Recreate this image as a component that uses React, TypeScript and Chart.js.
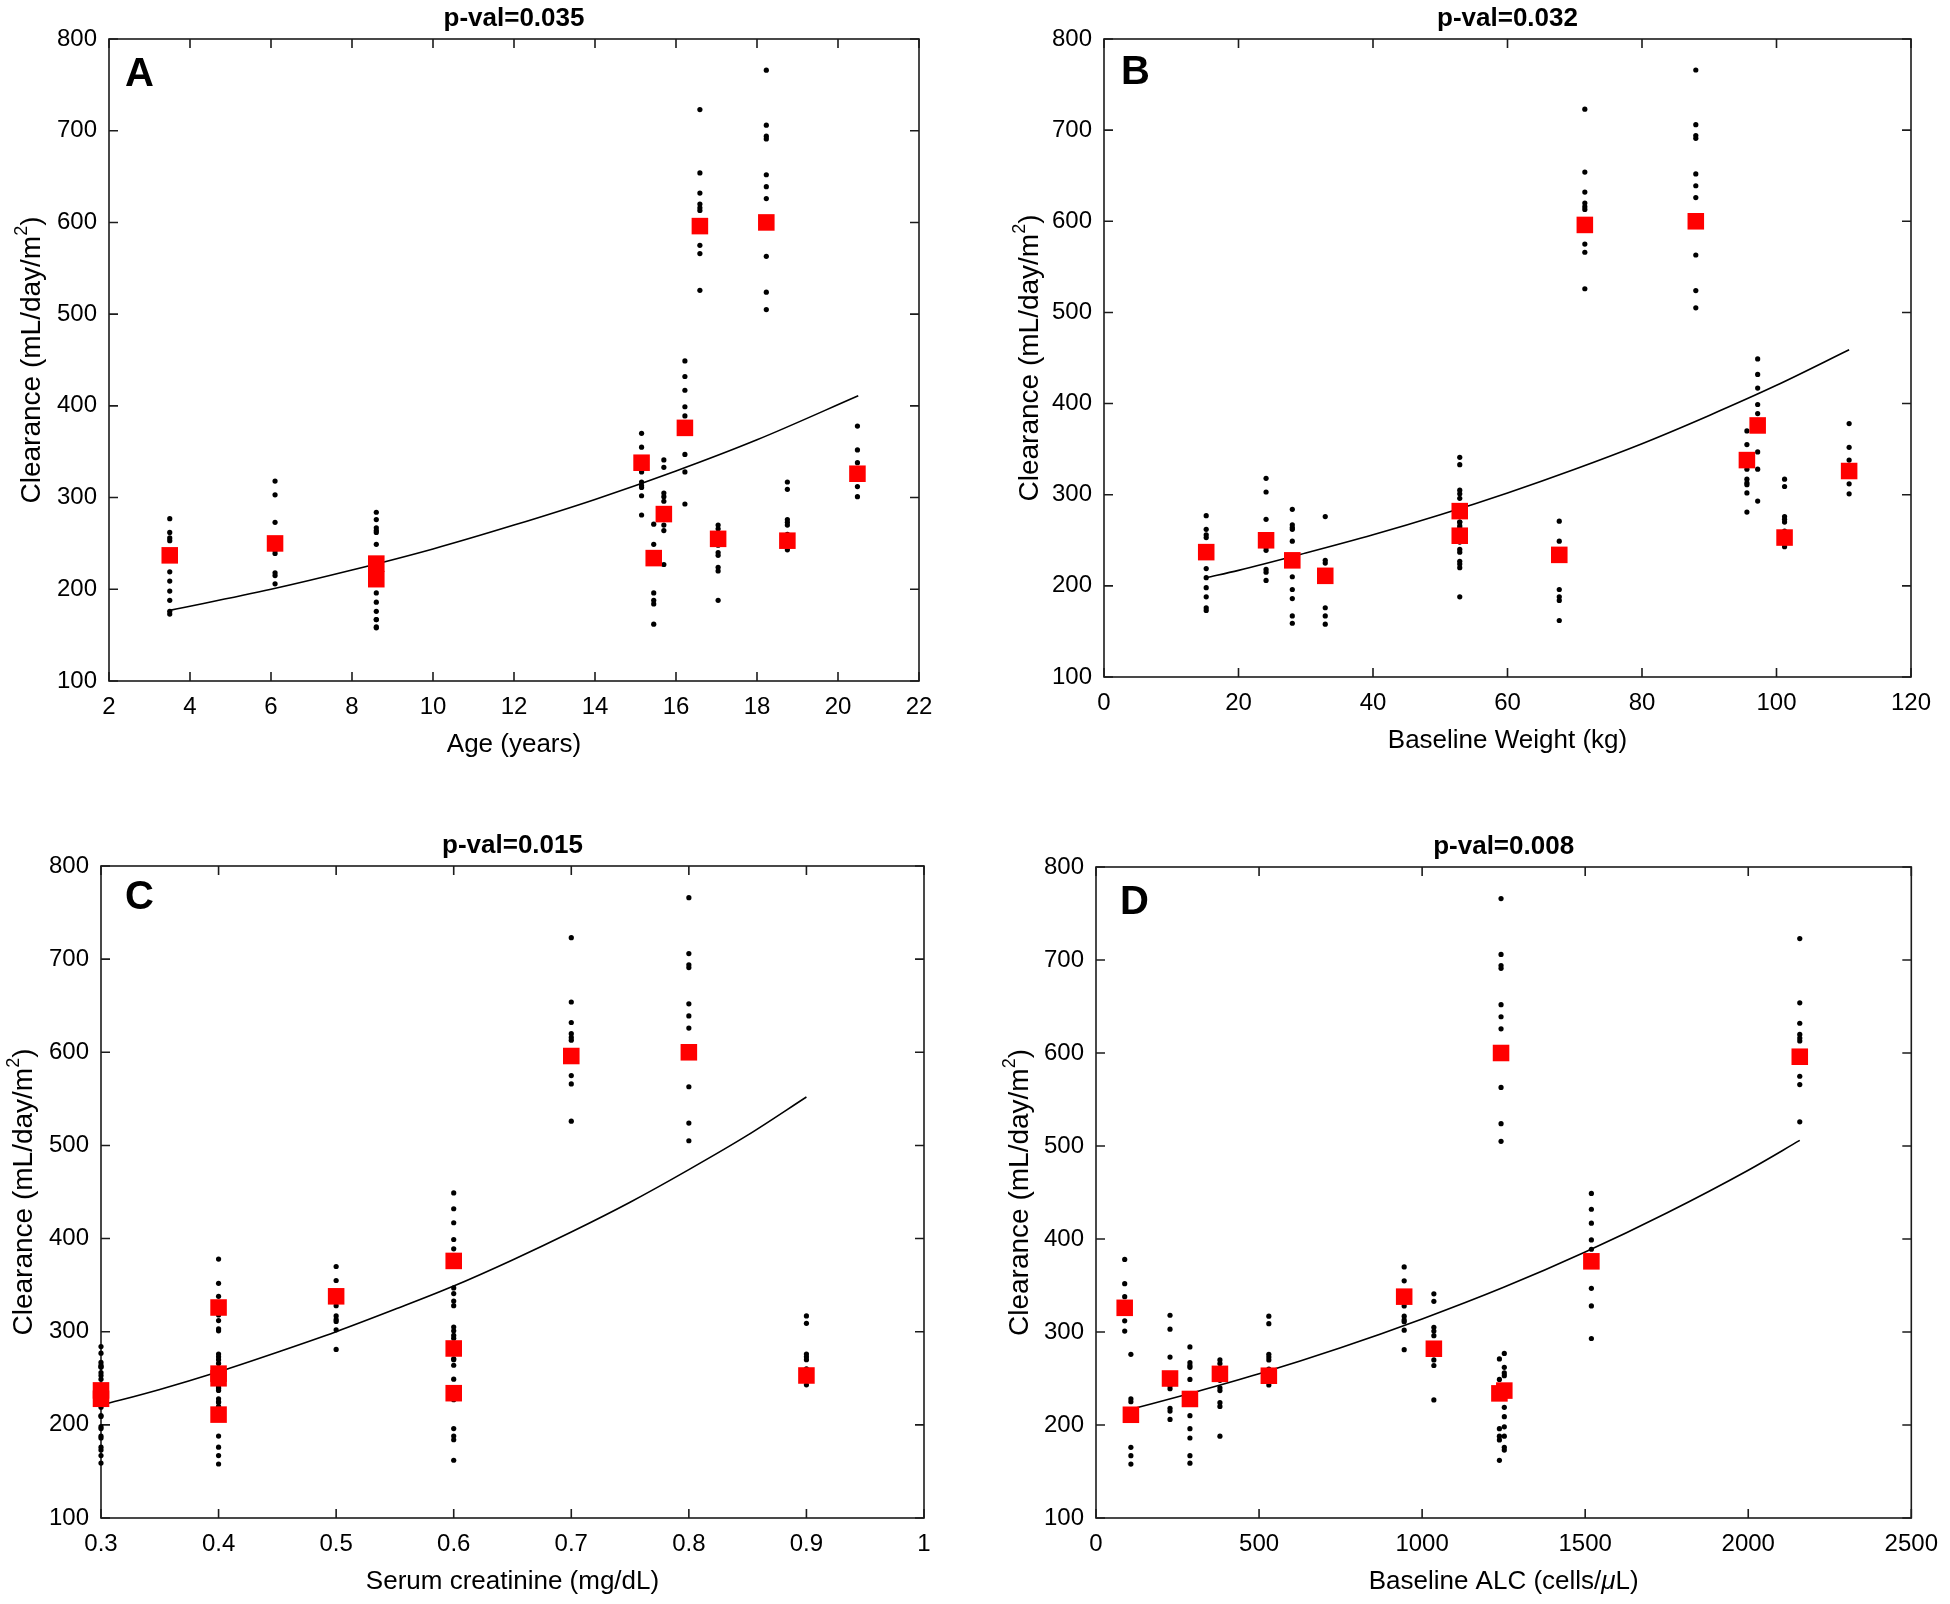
import React, { useEffect, useRef } from "react";
import { Chart, registerables } from "chart.js";

Chart.register(...registerables);

// ---------------- DATA ----------------
// Per-patient mean clearance (red squares), mL/day/m2
const patientMeans = [237, 250, 228, 211, 338, 234, 282, 376, 596, 255, 600, 253, 326];

// Covariate values per patient
const ageYears = [3.5, 6.1, 8.6, 8.6, 15.15, 15.45, 15.7, 16.22, 16.59, 17.04, 18.23, 18.75, 20.48];
const weightKg = [15.2, 24.1, 28, 32.9, 95.6, 67.7, 52.9, 97.2, 71.5, 52.9, 88, 101.2, 110.8];
const creatinine = [0.3, 0.4, 0.3, 0.4, 0.5, 0.6, 0.6, 0.6, 0.7, 0.4, 0.8, 0.9, 0.4];
const alcCells = [1252, 227, 288, 107, 945, 1237, 1036, 1519, 2158, 380, 1242, 530, 88];

// Individual clearance estimates per patient (black dots)
const p1Samples = [277, 262, 256, 253, 219, 209, 198, 188, 176, 173];
const p2Samples = [318, 303, 273, 242, 239, 218, 215, 206];
const p3Samples = [284, 267, 264, 262, 249, 210, 196, 186, 167, 159];
const p4Samples = [276, 228, 225, 176, 167, 158];
const p5Samples = [370, 355, 341, 328, 317, 313, 311, 302, 281];
const p6Samples = [271, 249, 196, 188, 184, 162];
const p7Samples = [341, 333, 305, 301, 296, 270, 264, 227];
const p8Samples = [449, 432, 417, 399, 389, 347, 328, 293];
const p9Samples = [723, 654, 632, 620, 616, 613, 575, 566, 526];
const p10Samples = [270, 266, 248, 240, 237, 224, 220, 188];
const p11Samples = [766, 706, 694, 691, 652, 639, 626, 563, 524, 505];
const p12Samples = [317, 309, 276, 273, 270, 260, 248, 243];
const p13Samples = [378, 352, 338, 312, 301];
const allSamples = [
  p1Samples, p2Samples, p3Samples, p4Samples, p5Samples, p6Samples, p7Samples,
  p8Samples, p9Samples, p10Samples, p11Samples, p12Samples, p13Samples,
];

// Fitted curves
const fitAgeX = [3.5, 6, 8, 10, 12, 14, 16, 18, 20.5];
const fitAgeY = [177, 200, 221, 244, 270, 298, 329, 363, 411];
const fitWeightX = [15.2, 20, 30, 40, 50, 60, 70, 80, 90, 100, 110.8];
const fitWeightY = [209, 217, 236, 256, 278, 302, 328, 356, 387, 420, 459];
const fitCreatX = [0.3, 0.35, 0.4, 0.45, 0.5, 0.55, 0.6, 0.65, 0.7, 0.75, 0.8, 0.85, 0.9];
const fitCreatY = [221, 238, 257, 278, 300, 324, 349, 377, 407, 439, 474, 511, 552];
const fitAlcX = [107, 300, 500, 750, 1000, 1250, 1500, 1750, 2000, 2158];
const fitAlcY = [217, 235, 255, 283, 314, 348, 386, 428, 474, 506];

// Tick labels
const yTicks = [100, 200, 300, 400, 500, 600, 700, 800];
const ageTicks = [2, 4, 6, 8, 10, 12, 14, 16, 18, 20, 22];
const weightTicks = [0, 20, 40, 60, 80, 100, 120];
const creatTicks = [0.3, 0.4, 0.5, 0.6, 0.7, 0.8, 0.9, 1];
const alcTicks = [0, 500, 1000, 1500, 2000, 2500];

const pValues = ["p-val=0.035", "p-val=0.032", "p-val=0.015", "p-val=0.008"];

// ---------------- LAYOUT ----------------
const FONT = '"Liberation Sans", Arial, Helvetica, sans-serif';
const Y_AXIS_W = 60;
const X_AXIS_H = 40;

type Part = { text: string; font: string; dy?: number };

const yLabelParts: Part[] = [
  { text: "Clearance (mL/day/m", font: `28px ${FONT}` },
  { text: "2", font: `18px ${FONT}`, dy: -10 },
  { text: ")", font: `28px ${FONT}` },
];

const panels = [
  {
    letter: "A", title: pValues[0], xs: ageYears, fitX: fitAgeX, fitY: fitAgeY,
    xMin: 2, xMax: 22, xTicks: ageTicks,
    xLabel: [{ text: "Age (years)", font: `26px ${FONT}` }] as Part[],
    box: { x: 0, y: 0, w: 975, h: 802 },
    pad: { left: 49, right: 56, top: 39, bottom: 81 },
    letterDx: 16, letterDy: 47, yLabelDx: -77,
  },
  {
    letter: "B", title: pValues[1], xs: weightKg, fitX: fitWeightX, fitY: fitWeightY,
    xMin: 0, xMax: 120, xTicks: weightTicks,
    xLabel: [{ text: "Baseline Weight (kg)", font: `26px ${FONT}` }] as Part[],
    box: { x: 975, y: 0, w: 975, h: 802 },
    pad: { left: 69, right: 39, top: 39, bottom: 85 },
    letterDx: 17, letterDy: 45, yLabelDx: -74,
  },
  {
    letter: "C", title: pValues[2], xs: creatinine, fitX: fitCreatX, fitY: fitCreatY,
    xMin: 0.3, xMax: 1, xTicks: creatTicks,
    xLabel: [{ text: "Serum creatinine (mg/dL)", font: `26px ${FONT}` }] as Part[],
    box: { x: 0, y: 802, w: 975, h: 802 },
    pad: { left: 41, right: 51, top: 64, bottom: 46 },
    letterDx: 24, letterDy: 43, yLabelDx: -77,
  },
  {
    letter: "D", title: pValues[3], xs: alcCells, fitX: fitAlcX, fitY: fitAlcY,
    xMin: 0, xMax: 2500, xTicks: alcTicks,
    xLabel: [
      { text: "Baseline ALC (cells/", font: `26px ${FONT}` },
      { text: "\u03bc", font: `italic 26px ${FONT}` },
      { text: "L)", font: `26px ${FONT}` },
    ] as Part[],
    box: { x: 975, y: 802, w: 975, h: 802 },
    pad: { left: 61, right: 31, top: 65, bottom: 46 },
    letterDx: 24, letterDy: 47, yLabelDx: -76,
  },
];

function drawParts(ctx: CanvasRenderingContext2D, parts: Part[]) {
  let total = 0;
  const widths = parts.map((p) => {
    ctx.font = p.font;
    const w = ctx.measureText(p.text).width;
    total += w;
    return w;
  });
  let x = -total / 2;
  ctx.textAlign = "left";
  ctx.textBaseline = "middle";
  parts.forEach((p, i) => {
    ctx.font = p.font;
    ctx.fillText(p.text, x, p.dy || 0);
    x += widths[i];
  });
}

const framePlugin = {
  id: "frameTicks",
  beforeDatasetsDraw(chart: any) {
    const { ctx, chartArea: a, scales } = chart;
    ctx.save();
    ctx.strokeStyle = "#1c1c1c";
    ctx.lineWidth = 1.6;
    ctx.strokeRect(a.left, a.top, a.right - a.left, a.bottom - a.top);
    const tl = 9;
    ctx.beginPath();
    for (const t of scales.x.ticks) {
      const px = scales.x.getPixelForValue(t.value);
      ctx.moveTo(px, a.bottom);
      ctx.lineTo(px, a.bottom - tl);
      ctx.moveTo(px, a.top);
      ctx.lineTo(px, a.top + tl);
    }
    for (const t of scales.y.ticks) {
      const py = scales.y.getPixelForValue(t.value);
      ctx.moveTo(a.left, py);
      ctx.lineTo(a.left + tl, py);
      ctx.moveTo(a.right, py);
      ctx.lineTo(a.right - tl, py);
    }
    ctx.stroke();
    ctx.restore();
  },
  afterDraw(chart: any, _args: any, opts: any) {
    const { ctx, chartArea: a } = chart;
    const cx = (a.left + a.right) / 2;
    const cy = (a.top + a.bottom) / 2;
    ctx.save();
    ctx.fillStyle = "#000";
    ctx.font = `bold 26px ${FONT}`;
    ctx.textAlign = "center";
    ctx.textBaseline = "middle";
    ctx.fillText(opts.title, cx, a.top - 20);
    ctx.font = `bold 40px ${FONT}`;
    ctx.textAlign = "left";
    ctx.textBaseline = "alphabetic";
    ctx.fillText(opts.letter, a.left + opts.letterDx, a.top + opts.letterDy);
    ctx.save();
    ctx.translate(cx, a.bottom + 64);
    drawParts(ctx, opts.xLabel);
    ctx.restore();
    ctx.save();
    ctx.translate(a.left + opts.yLabelDx, cy);
    ctx.rotate(-Math.PI / 2);
    drawParts(ctx, yLabelParts);
    ctx.restore();
    ctx.restore();
  },
};

function Panel({ cfg }: { cfg: (typeof panels)[number] }) {
  const ref = useRef<HTMLCanvasElement>(null);
  useEffect(() => {
    const dots: { x: number; y: number }[] = [];
    allSamples.forEach((s, i) => s.forEach((v) => dots.push({ x: cfg.xs[i], y: v })));
    const means = patientMeans.map((m, i) => ({ x: cfg.xs[i], y: m }));
    const fit = cfg.fitX.map((x, i) => ({ x, y: cfg.fitY[i] }));
    const tickFont = { family: FONT, size: 24 };
    const chart = new Chart(ref.current as HTMLCanvasElement, {
      type: "scatter",
      data: {
        datasets: [
          {
            data: means,
            pointStyle: "rect",
            pointRadius: 11.7,
            backgroundColor: "#ff0000",
            borderWidth: 0,
            order: 0,
            clip: false as any,
          },
          {
            data: fit,
            showLine: true,
            pointRadius: 0,
            borderColor: "#000",
            borderWidth: 1.6,
            cubicInterpolationMode: "monotone",
            order: 1,
            clip: false as any,
          } as any,
          {
            data: dots,
            pointStyle: "circle",
            pointRadius: 2.6,
            backgroundColor: "#000",
            borderWidth: 0,
            order: 2,
            clip: false as any,
          },
        ],
      },
      options: {
        responsive: false,
        devicePixelRatio: 1,
        animation: false,
        events: [],
        layout: { padding: cfg.pad },
        plugins: {
          legend: { display: false },
          tooltip: { enabled: false },
          title: { display: false },
          frameTicks: {
            title: cfg.title,
            letter: cfg.letter,
            letterDx: cfg.letterDx,
            letterDy: cfg.letterDy,
            xLabel: cfg.xLabel,
            yLabelDx: cfg.yLabelDx,
          },
        } as any,
        scales: {
          x: {
            type: "linear",
            min: cfg.xMin,
            max: cfg.xMax,
            afterBuildTicks: (s: any) => {
              s.ticks = cfg.xTicks.map((v) => ({ value: v }));
            },
            afterFit: (s: any) => {
              s.height = X_AXIS_H;
            },
            grid: { display: false, drawTicks: false },
            border: { display: false },
            ticks: {
              color: "#000",
              font: tickFont,
              padding: 12,
              maxRotation: 0,
              autoSkip: false,
              callback: (v: any) => String(Math.round(Number(v) * 100) / 100),
            },
          },
          y: {
            type: "linear",
            min: 100,
            max: 800,
            afterBuildTicks: (s: any) => {
              s.ticks = yTicks.map((v) => ({ value: v }));
            },
            afterFit: (s: any) => {
              s.width = Y_AXIS_W;
            },
            grid: { display: false, drawTicks: false },
            border: { display: false },
            ticks: {
              color: "#000",
              font: tickFont,
              padding: 12,
              autoSkip: false,
              callback: (v: any) => String(v),
            },
          },
        },
      },
      plugins: [framePlugin as any],
    });
    return () => chart.destroy();
  }, []);
  return (
    <canvas
      ref={ref}
      width={cfg.box.w}
      height={cfg.box.h}
      style={{
        position: "absolute",
        left: cfg.box.x,
        top: cfg.box.y,
        width: cfg.box.w,
        height: cfg.box.h,
      }}
    />
  );
}

export default function App() {
  return (
    <div
      style={{
        position: "absolute",
        left: 0,
        top: 0,
        width: 1950,
        height: 1604,
        background: "#fff",
        overflow: "hidden",
      }}
    >
      {panels.map((p) => (
        <Panel key={p.letter} cfg={p} />
      ))}
    </div>
  );
}
